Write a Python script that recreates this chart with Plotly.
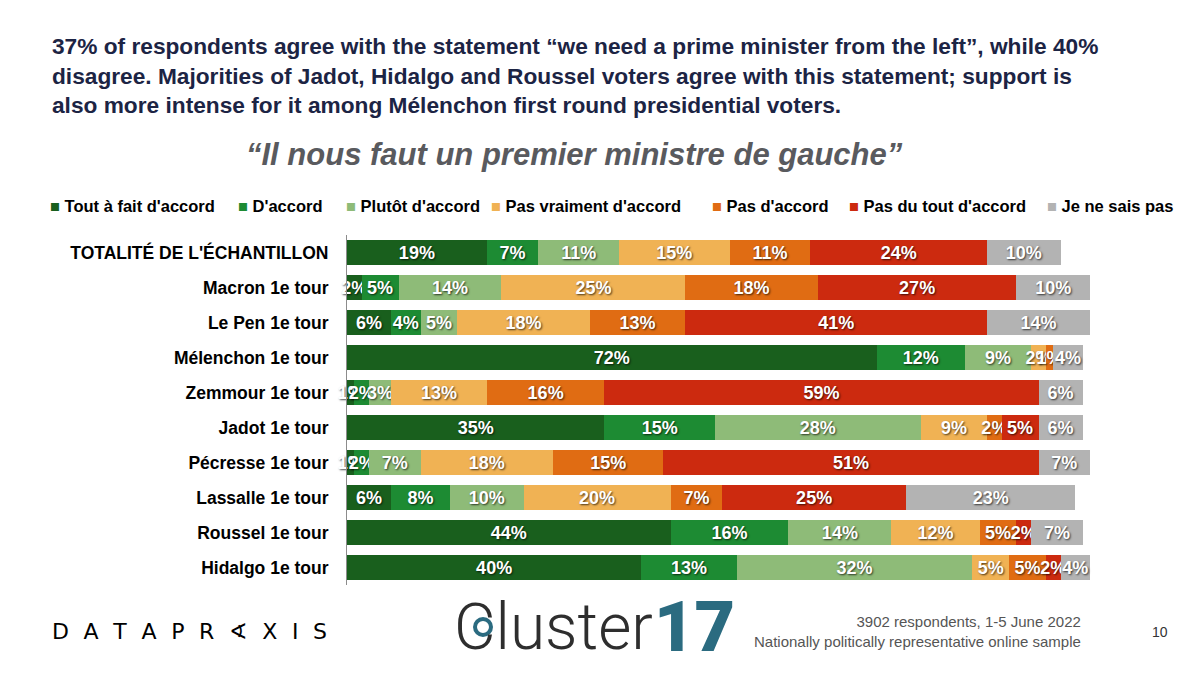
import plotly.graph_objects as go

# groups (top to bottom)
groups = ["TOTALITÉ DE L'ÉCHANTILLON", "Macron 1e tour", "Le Pen 1e tour", "Mélenchon 1e tour",
          "Zemmour 1e tour", "Jadot 1e tour", "Pécresse 1e tour", "Lassalle 1e tour",
          "Roussel 1e tour", "Hidalgo 1e tour"]

answers = ["Tout à fait d'accord", "D'accord", "Plutôt d'accord", "Pas vraiment d'accord",
           "Pas d'accord", "Pas du tout d'accord", "Je ne sais pas"]

tout_a_fait = [19, 2, 6, 72, 1, 35, 1, 6, 44, 40]
d_accord = [7, 5, 4, 12, 2, 15, 2, 8, 16, 13]
plutot = [11, 14, 5, 9, 3, 28, 7, 10, 14, 32]
pas_vraiment = [15, 25, 18, 2, 13, 9, 18, 20, 12, 5]
pas_d_accord = [11, 18, 13, 1, 16, 2, 15, 7, 5, 5]
pas_du_tout = [24, 27, 41, 0, 59, 5, 51, 25, 2, 2]
nsp = [10, 10, 14, 4, 6, 6, 7, 23, 7, 4]

series = [tout_a_fait, d_accord, plutot, pas_vraiment, pas_d_accord, pas_du_tout, nsp]
colors = ["#195f1d", "#1d8b33", "#8ebb78", "#f0b254", "#e06c13", "#cc2a0f", "#b3b3b3"]

W, H = 1200, 675
OFF = 8                            # the page body margin shifts the figure by 8px
L, R, T, B = 347, 1090, 235, 585   # plot area in page pixels
legend_x = [48, 236, 344, 489, 710, 847, 1045]   # left edge of each legend entry


def px(x):
    return (x - L) / (R - L)


def py(y):
    return (B - y) / (B - T)


fig = go.Figure()
for name, vals, col in zip(answers, series, colors):
    fig.add_trace(go.Bar(
        y=groups, x=vals, name=name, orientation="h",
        marker=dict(color=col, line=dict(width=0)),
        text=[f"{v}%" for v in vals], textposition="inside", insidetextanchor="middle",
        constraintext="none", textangle=0, cliponaxis=False,
        textfont=dict(family="Liberation Sans", size=18, color="white", weight="bold",
                      shadow="1px 1px 2px rgba(0,0,0,0.7)"),
        hoverinfo="skip", showlegend=False,
    ))

fig.update_layout(
    width=W, height=H,
    margin=dict(l=L - OFF, r=W - R + OFF, t=T - OFF, b=H - B + OFF, autoexpand=False),
    barmode="stack", bargap=0.29,
    plot_bgcolor="white", paper_bgcolor="white",
    font=dict(family="Liberation Sans", color="black"),
    xaxis=dict(range=[0, 101], visible=False, fixedrange=True),
    yaxis=dict(autorange="reversed", showline=True, linecolor="#8c8c8c", linewidth=1,
               ticks="", ticklabelstandoff=14, showgrid=False, automargin=False,
               tickfont=dict(family="Liberation Sans", size=17.5, color="black", weight="bold")),
)

annotations = [
    dict(x=px(50), y=py(31), xanchor="left", yanchor="top", align="left",
         text="37% of respondents agree with the statement “we need a prime minister from the left”, while 40%<br>"
              "disagree. Majorities of Jadot, Hidalgo and Roussel voters agree with this statement; support is<br>"
              "also more intense for it among Mélenchon first round presidential voters.",
         font=dict(size=22.7, color="#1c2444", weight="bold")),
    dict(x=px(574), y=py(155), xanchor="center", yanchor="middle",
         text="<i>“Il nous faut un premier ministre de gauche”</i>",
         font=dict(size=31, color="#595a5e", weight="bold")),
    dict(x=px(50), y=py(631), xanchor="left", yanchor="middle",
         text="\u2002\u2006".join("DATAPR∢XIS"),
         font=dict(family="DejaVu Sans", size=22, color="black")),
    dict(x=px(452), y=py(627), xanchor="left", yanchor="middle",
         text="Cluster",
         font=dict(family="Roboto", size=64, color="#2e2e2e", weight=300)),
    dict(x=px(652), y=py(627), xanchor="left", yanchor="middle",
         text="17",
         font=dict(family="Roboto", size=70, color="#2b6b80", weight=900)),
    dict(x=px(1083), y=py(631), xanchor="right", yanchor="middle", align="right",
         text="3902 respondents, 1-5 June 2022<br>Nationally politically representative online sample",
         font=dict(size=15, color="#555555")),
    dict(x=px(1160), y=py(632), xanchor="center", yanchor="middle",
         text="10", font=dict(size=14, color="#333333")),
]

# legend row
for name, col, lx in zip(answers, colors, legend_x):
    annotations.append(dict(
        x=px(lx), y=py(206), xanchor="left", yanchor="middle",
        text=f"<span style='color:{col}'>■</span> {name}",
        font=dict(family="Liberation Sans", size=16.5, color="black", weight="bold")))

for a in annotations:
    a.update(xref="paper", yref="paper", showarrow=False)
fig.update_layout(annotations=annotations)

# ring inside the C of the logo
fig.add_shape(type="circle", xref="paper", yref="paper",
              x0=px(475), x1=px(491), y0=py(635), y1=py(619),
              line=dict(color="#2b6b80", width=4), fillcolor="white", layer="above")

fig.write_html("out.html")
